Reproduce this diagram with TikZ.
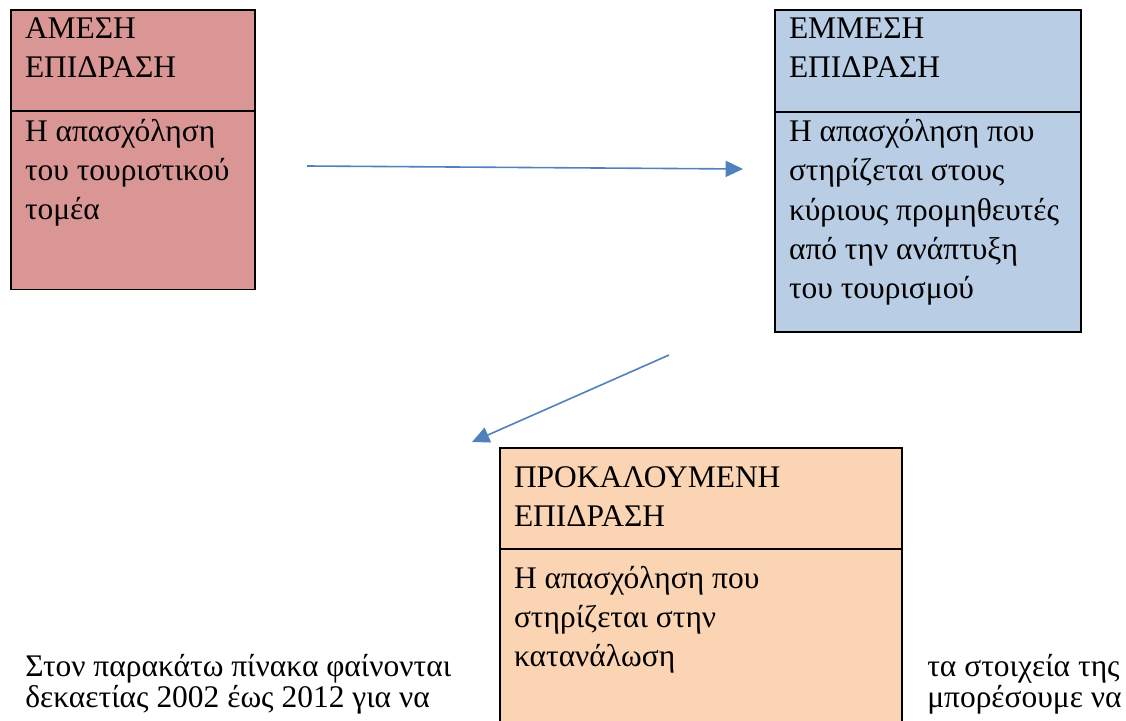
\documentclass[tikz,border=0pt]{standalone}
\usepackage{fontspec}
\setmainfont{Liberation Serif}
\usetikzlibrary{positioning,arrows.meta}

\definecolor{amesi}{HTML}{D99694}
\definecolor{emmesi}{HTML}{B9CDE5}
\definecolor{prokal}{HTML}{FBD4B4}
\definecolor{flowblue}{HTML}{4F81BD}

% cell text: height, width, first baseline, lines
\newcommand{\celltext}[4]{\parbox[c][#1][t]{#2}{\raggedright\leftskip=10.5pt\baselineskip=29.25pt\rule{0pt}{#3}#4}}

\tikzset{
  cell/.style={draw=black, line width=1.1pt, inner sep=0pt, outer sep=0pt,
    font=\fontsize{23.6}{29.25}\selectfont},
  flow/.style={draw=flowblue, line width=1.2pt, -{Triangle[length=13pt,width=12pt]}},
  prose/.style={inner sep=0pt, anchor=base west, align=left,
    font=\fontsize{23.6}{21}\selectfont}
}

\begin{document}
\begin{tikzpicture}[x=0.75pt, y=-0.75pt]
    \useasboundingbox (0,0) rectangle (1126,720);
    % boxes
    \node[cell, fill=amesi, anchor=north west] (amt) at (11,10) {\celltext{75.75pt}{183pt}{21.75pt}{ΑΜΕΣΗ\\ΕΠΙΔΡΑΣΗ}};
    \node[cell, fill=amesi] (amb) [below=0pt of amt] {\celltext{133.9pt}{183pt}{22.9pt}{Η απασχόληση\\του τουριστικού\\τομέα}};
    \node[cell, fill=emmesi, anchor=north west] (emt) at (775,10) {\celltext{76.5pt}{229.5pt}{21.75pt}{ΕΜΜΕΣΗ\\ΕΠΙΔΡΑΣΗ}};
    \node[cell, fill=emmesi] (emb) [below=0pt of emt] {\celltext{165pt}{229.5pt}{22.5pt}{Η απασχόληση που\\στηρίζεται στους\\κύριους προμηθευτές\\από την ανάπτυξη\\του τουρισμού}};
    \node[cell, fill=prokal, anchor=north west] (prt) at (500,448) {\celltext{75.75pt}{301.5pt}{29.25pt}{ΠΡΟΚΑΛΟΥΜΕΝΗ\\ΕΠΙΔΡΑΣΗ}};
    \node[cell, fill=prokal] (prb) [below=0pt of prt] {\celltext{180pt}{301.5pt}{29.25pt}{Η απασχόληση που\\στηρίζεται στην\\κατανάλωση}};
    % arrows
    \coordinate (f1s) at (307,166);
    \coordinate (f1e) at (743,169);
    \coordinate (f2s) at (669,355);
    \coordinate (f2e) at (472,442);
    \draw[flow] (f1s) -- (f1e);
    \draw[flow] (f2s) -- (f2e);
    % text around the lower box
    \node[prose] (txl) at (25,707) {Στον παρακάτω πίνακα φαίνονται\\δεκαετίας 2002 έως 2012 για να};
    \node[prose] (txr) at (927,707) {τα στοιχεία της\\μπορέσουμε να};
\end{tikzpicture}
\end{document}
